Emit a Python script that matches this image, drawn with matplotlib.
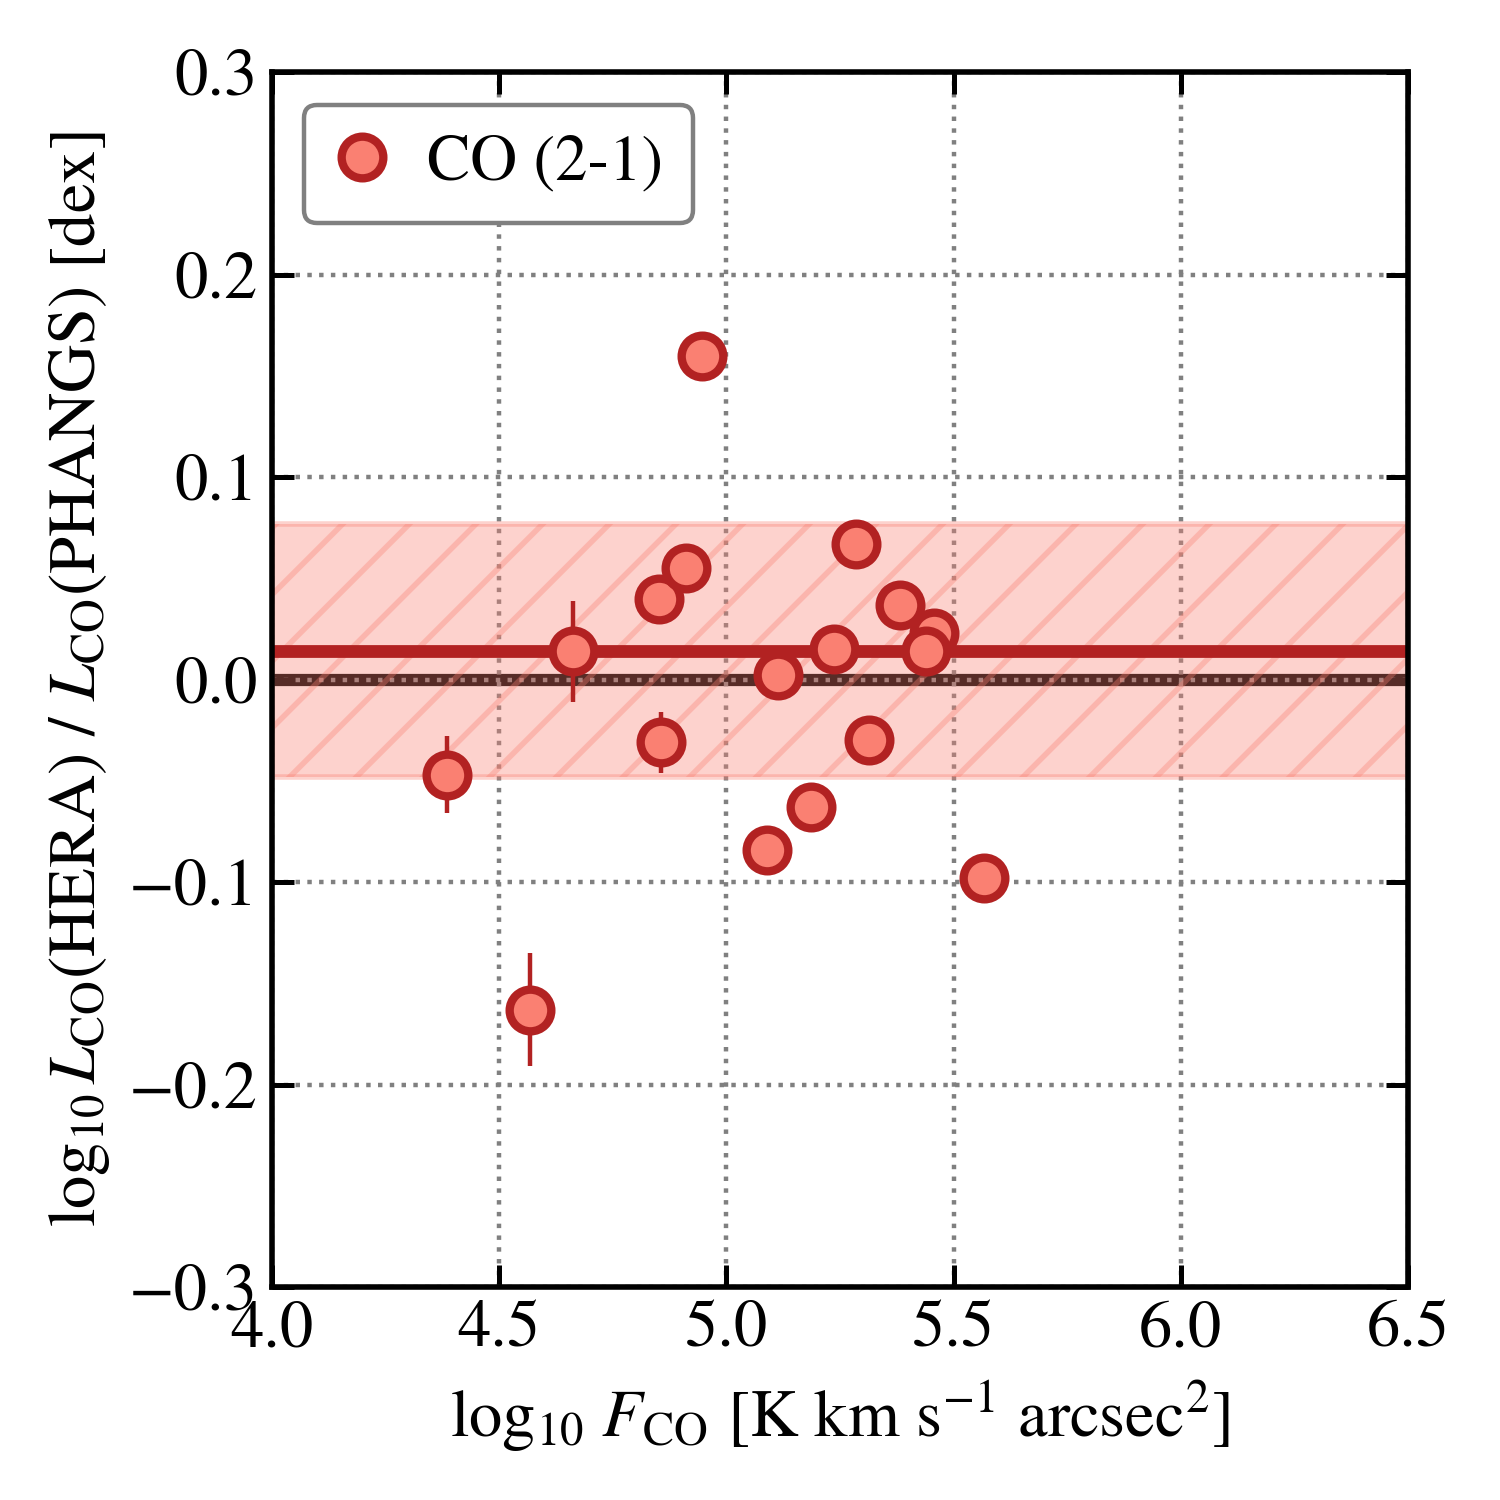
import matplotlib
matplotlib.use('Agg')
import matplotlib.pyplot as plt
from matplotlib.lines import Line2D
import numpy as np

plt.rcParams['font.family'] = ['STIXGeneral', 'DejaVu Serif']
plt.rcParams['mathtext.fontset'] = 'stix'
plt.rcParams['hatch.linewidth'] = 1.0

# data
log_flux = [4.385, 4.568, 4.662, 4.852, 4.856, 4.911, 4.946, 5.089, 5.114,
            5.186, 5.237, 5.285, 5.314, 5.382, 5.457, 5.439, 5.567]
log_ratio = [-0.047, -0.163, 0.014, 0.040, -0.031, 0.055, 0.160, -0.084, 0.002,
             -0.063, 0.015, 0.067, -0.030, 0.037, 0.023, 0.014, -0.098]
ratio_err = [0.019, 0.028, 0.025, 0.008, 0.015, 0.007, 0.006, 0.006, 0.007,
             0.005, 0.006, 0.005, 0.006, 0.005, 0.006, 0.005, 0.005]
mean_offset = 0.014
band_low, band_high = -0.048, 0.077

xticks = [4.0, 4.5, 5.0, 5.5, 6.0, 6.5]
yticks = [-0.3, -0.2, -0.1, 0.0, 0.1, 0.2, 0.3]

fig = plt.figure(figsize=(3.75, 3.75), dpi=400)
ax = fig.add_axes([0.1813, 0.142, 0.7574, 0.81])

ax.axhline(0.0, color='black', lw=2.2, zorder=1)
ax.axhspan(band_low, band_high, facecolor='salmon', edgecolor='salmon',
           alpha=0.35, hatch='//', lw=1.0, zorder=2)
ax.axhline(mean_offset, color='firebrick', lw=2.3, zorder=2.5)

ax.errorbar(log_flux, log_ratio, yerr=ratio_err, fmt='o', ms=7.5,
            mfc='salmon', mec='firebrick', mew=1.5, ecolor='firebrick',
            elinewidth=0.8, capsize=0, zorder=4)

ax.set_xlim(4.0, 6.5)
ax.set_ylim(-0.3, 0.3)
ax.set_xticks(xticks)
ax.set_yticks(yticks)
ax.set_xticklabels([f'{t:.1f}' for t in xticks])
ax.set_yticklabels([f'{t:.1f}'.replace('-', '\u2212') for t in yticks])
ax.tick_params(direction='in', top=True, right=True, length=4, width=0.9,
               labelsize=12, pad=2.5)
for s in ax.spines.values():
    s.set_linewidth(1.0)
ax.grid(True, ls=':', color='gray', lw=0.8)

ax.set_xlabel(r'$\log_{10}\,F_{\rm CO}$ [K km s$^{-1}$ arcsec$^{2}$]',
              fontsize=12, labelpad=3)
ax.set_ylabel(r'$\log_{10} L_{\rm CO}$(HERA) / $L_{\rm CO}$(PHANGS) [dex]',
              fontsize=12, labelpad=3)

handle = Line2D([], [], ls='none', marker='o', ms=7.5, mfc='salmon',
                mec='firebrick', mew=1.5)
leg = ax.legend([handle], ['CO (2-1)'], loc='upper left', fontsize=11.7,
                frameon=True, fancybox=True, framealpha=1, edgecolor='gray',
                borderpad=0.45, handlelength=0.86, handletextpad=0.58,
                borderaxespad=0.5)
leg.get_frame().set_linewidth(0.8)

fig.savefig('out.png', dpi=400)
